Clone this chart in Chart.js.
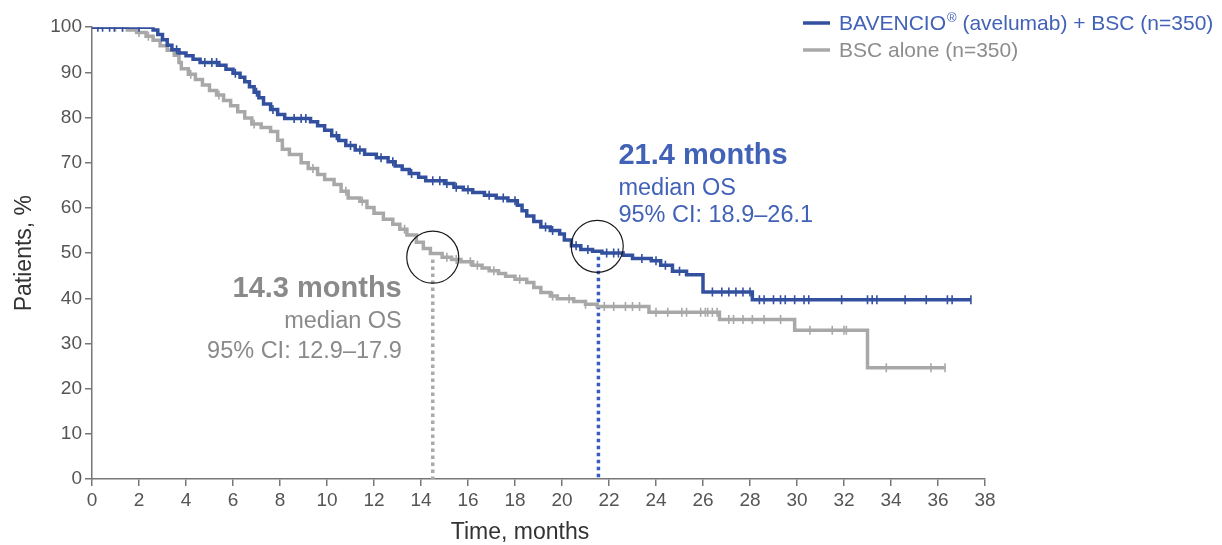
<!DOCTYPE html>
<html><head><meta charset="utf-8">
<script src="https://cdn.jsdelivr.net/npm/chart.js@4.4.1/dist/chart.umd.min.js"></script>
<style>html,body{margin:0;padding:0;background:#fff;overflow:hidden}#wrap{width:1222px;height:545px;position:relative}</style>
</head><body><div id="wrap"><canvas id="c" width="1222" height="545"></canvas></div>
<script>
// ---- Data (Kaplan–Meier steps: time in months, survival %) ----
const blueTimes = [0,2.6,2.8,3.0,3.2,3.4,3.7,4.0,4.3,4.6,5.4,5.7,6.0,6.3,6.5,6.7,6.9,7.1,7.3,7.6,7.9,8.2,9.3,9.6,9.9,10.2,10.5,10.8,11.2,11.6,12.1,12.6,12.9,13.2,13.5,13.9,14.2,15.0,15.4,15.8,16.2,16.7,17.2,17.7,18.1,18.3,18.5,18.8,19.1,19.5,19.9,20.1,20.4,20.8,21.3,21.7,22.6,23.0,23.8,24.2,24.7,25.3,26.0,28.1,37.4];
const blueSurv  = [100,99.4,98.4,97.2,96.0,95.0,94.3,93.7,92.9,92.2,91.6,90.7,89.8,88.9,87.9,86.8,85.6,84.4,83.0,81.8,80.7,79.8,79.1,78.2,77.2,76.0,74.9,73.8,72.8,71.9,71.1,70.2,69.3,68.5,67.6,66.8,66.0,65.4,64.6,64.0,63.4,62.8,62.2,61.6,60.6,59.4,58.2,57.0,55.8,55.0,54.2,52.9,51.6,50.8,50.4,50.0,49.5,48.8,48.3,47.3,46.0,45.2,41.4,39.7,39.7];
const grayTimes = [0,1.5,1.9,2.3,2.6,2.9,3.2,3.5,3.7,3.8,4.1,4.4,4.7,5.0,5.3,5.6,5.9,6.2,6.5,6.8,7.2,7.6,7.9,8.1,8.4,8.9,9.2,9.6,9.9,10.3,10.6,10.9,11.4,11.7,12.0,12.4,12.8,13.1,13.4,13.8,14.1,14.4,14.9,15.3,15.7,16.2,16.6,16.9,17.3,17.6,18.0,18.5,18.8,19.1,19.5,19.8,20.5,21.0,21.5,23.7,26.7,29.9,33.0,36.3];
const graySurv  = [100,99.4,98.8,98.0,97.1,95.9,94.9,93.8,92.2,90.8,89.6,88.4,87.2,86.0,85.0,83.8,82.6,81.3,79.9,78.6,77.8,76.9,75.0,73.0,71.8,70.0,68.7,67.4,66.3,65.2,63.7,62.2,61.5,60.1,58.8,57.5,56.4,55.3,54.0,52.4,51.0,49.9,49.1,48.6,48.1,47.3,46.7,46.1,45.5,44.9,44.2,43.5,42.4,41.3,40.5,39.9,39.3,38.7,38.2,36.9,35.3,32.9,24.6,24.6];
const blueCensor = [0.25,0.45,0.75,0.95,1.3,2.0,3.6,4.8,5.1,5.3,6.1,7.0,7.7,8.6,8.9,9.1,10.4,11.0,11.4,12.3,12.8,13.6,14.5,14.8,15.1,15.5,16.0,16.9,17.5,18.0,19.3,19.6,20.6,21.1,21.9,22.2,22.4,23.4,24.0,24.4,25.0,26.4,26.8,27.1,27.4,27.7,28.0,28.4,28.6,29.0,29.3,29.5,29.9,30.3,30.5,31.9,33.0,33.2,33.4,34.6,35.5,36.4,36.6,37.4];
const grayCensor = [1.0,1.3,2.0,2.4,4.2,5.4,6.9,9.4,10.8,11.5,13.3,15.1,15.5,16.1,16.4,17.1,18.2,19.6,20.3,21.0,21.8,22.2,22.7,23.0,23.3,24.0,24.5,25.1,25.3,25.9,26.1,26.2,26.4,26.6,27.1,27.3,27.7,28.1,28.6,29.3,30.55,31.5,32.0,32.1,33.8,35.7,36.3];
const seriesNames = ['BAVENCIO', '(avelumab) + BSC (n=350)', 'BSC alone (n=350)'];
const medianX = [14.5, 21.55];        // gray, blue dotted drop lines
const medianTopY = [48.6, 49.2];
const circleX = [14.5, 21.5];
const circleY = [49.1, 51.5];
const grayNote = ['14.3 months', 'median OS', '95% CI: 12.9\u201317.9'];
const blueNote = ['21.4 months', 'median OS', '95% CI: 18.9\u201326.1'];
const xTitle = 'Time, months';
const yTitle = 'Patients, %';

// ---- styles ----
const BLUE = '#33509f', BLUE_TXT = '#4262b8', BLUE_DOT = '#3a5cc0';
const GRAY = '#a8a8a8', GRAY_TXT = '#8a8a8a';
const AXIS = '#777';
const FONT = '"Liberation Sans", Arial, Helvetica, sans-serif';

function zip(t, s) { return t.map((x, i) => ({x, y: s[i]})); }
function stepAt(t, s, x) { let v = s[0]; for (let i = 0; i < t.length; i++) { if (t[i] <= x) v = s[i]; } return v; }

const datasets = [
  { data: zip(blueTimes, blueSurv), borderColor: BLUE, borderWidth: 3.5, stepped: true, pointRadius: 0, fill: false, order: 1 },
  { data: blueCensor.map(t => ({x: t, y: stepAt(blueTimes, blueSurv, t)})), showLine: false, pointStyle: 'line', rotation: 90, pointRadius: 4.5, borderColor: BLUE, pointBorderWidth: 1.6, order: 1 },
  { data: zip(grayTimes, graySurv), borderColor: GRAY, borderWidth: 3.5, stepped: true, pointRadius: 0, fill: false, order: 3 },
  { data: grayCensor.map(t => ({x: t, y: stepAt(grayTimes, graySurv, t)})), showLine: false, pointStyle: 'line', rotation: 90, pointRadius: 4.5, borderColor: GRAY, pointBorderWidth: 1.6, order: 3 },
  { data: [{x: medianX[0], y: medianTopY[0]}, {x: medianX[0], y: 0}], borderColor: '#a9a9a9', borderWidth: 3.5, borderDash: [3.5, 3.5], pointRadius: 0, order: 4 },
  { data: [{x: medianX[1], y: medianTopY[1]}, {x: medianX[1], y: 0}], borderColor: BLUE_DOT, borderWidth: 3.5, borderDash: [3.5, 3.5], pointRadius: 0, order: 4 },
  { data: circleX.map((x, i) => ({x, y: circleY[i]})), showLine: false, pointRadius: 26, pointBorderWidth: 1.2, borderColor: '#1a1a1a', backgroundColor: 'rgba(0,0,0,0)', order: 0 }
];

const textPlugin = {
  id: 'texts',
  afterDraw(chart) {
    const ctx = chart.ctx, xs = chart.scales.x;
    ctx.save();
    // legend
    ctx.lineWidth = 3.5; ctx.lineCap = 'butt';
    ctx.strokeStyle = BLUE; ctx.beginPath(); ctx.moveTo(803, 23); ctx.lineTo(830, 23); ctx.stroke();
    ctx.strokeStyle = GRAY; ctx.beginPath(); ctx.moveTo(803, 50); ctx.lineTo(830, 50); ctx.stroke();
    ctx.textBaseline = 'alphabetic'; ctx.textAlign = 'left';
    ctx.font = '21px ' + FONT; ctx.fillStyle = BLUE_TXT;
    let x = 839;
    ctx.fillText(seriesNames[0], x, 30); x += ctx.measureText(seriesNames[0]).width + 1;
    ctx.font = '13px ' + FONT; ctx.fillText('\u00AE', x, 22); x += ctx.measureText('\u00AE').width;
    ctx.font = '21px ' + FONT; ctx.fillText(' ' + seriesNames[1], x, 30);
    ctx.fillStyle = '#8d8d8d'; ctx.fillText(seriesNames[2], 839, 57);
    // gray median note (right aligned)
    const gx = xs.getPixelForValue(medianX[0]) - 31;
    ctx.textAlign = 'right'; ctx.fillStyle = GRAY_TXT;
    ctx.font = 'bold 29px ' + FONT; ctx.fillText(grayNote[0], gx, 297);
    ctx.font = '23.5px ' + FONT; ctx.fillText(grayNote[1], gx, 328); ctx.fillText(grayNote[2], gx, 358);
    // blue median note (left aligned)
    const bx = xs.getPixelForValue(medianX[1]) + 20;
    ctx.textAlign = 'left'; ctx.fillStyle = BLUE_TXT;
    ctx.font = 'bold 29px ' + FONT; ctx.fillText(blueNote[0], bx, 164);
    ctx.font = '23.5px ' + FONT; ctx.fillText(blueNote[1], bx, 195); ctx.fillText(blueNote[2], bx, 222);
    // x axis title
    ctx.textAlign = 'center'; ctx.textBaseline = 'middle'; ctx.fillStyle = '#333';
    ctx.font = '23px ' + FONT; ctx.fillText(xTitle, 520, 533);
    ctx.restore();
  }
};

new Chart(document.getElementById('c'), {
  type: 'line',
  data: { datasets },
  plugins: [textPlugin],
  options: {
    responsive: false, animation: false, devicePixelRatio: 1,
    layout: { padding: { left: 0, right: 237, top: 23, bottom: 0 } },
    plugins: { legend: { display: false }, tooltip: { enabled: false } },
    elements: { line: { tension: 0 } },
    scales: {
      x: {
        type: 'linear', min: 0, max: 38,
        afterFit(s) { s.height = 66; },
        ticks: { stepSize: 2, autoSkip: false, maxRotation: 0, color: '#555', font: { family: FONT, size: 19 }, padding: 3 },
        grid: { display: true, drawOnChartArea: false, drawTicks: true, tickLength: 7, color: AXIS, lineWidth: 1.5 },
        border: { display: true, color: AXIS, width: 1.5 }
      },
      y: {
        type: 'linear', min: 0, max: 100,
        afterFit(s) { s.width = 92; },
        ticks: { stepSize: 10, color: '#555', font: { family: FONT, size: 19 }, padding: 3 },
        grid: { display: true, drawOnChartArea: false, drawTicks: true, tickLength: 7, color: AXIS, lineWidth: 1.5 },
        border: { display: true, color: AXIS, width: 1.5 },
        title: { display: true, text: yTitle, color: '#333', font: { family: FONT, size: 23, lineHeight: 1 }, padding: { top: 13, bottom: 0 } }
      }
    }
  }
});
</script></body></html>
